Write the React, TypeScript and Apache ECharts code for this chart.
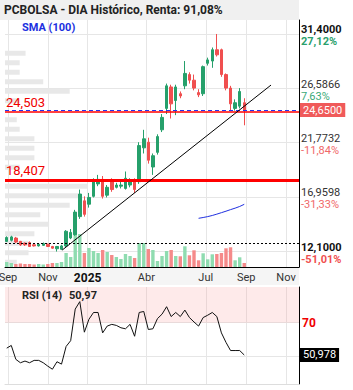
import React, { useEffect, useRef } from 'react';
import * as echarts from 'echarts';

// ---------- data ----------
const weekDates = [
  '2024-08-30', '2024-09-06', '2024-09-13', '2024-09-20', '2024-09-27', '2024-10-04', '2024-10-11', '2024-10-18',
  '2024-10-25', '2024-11-01', '2024-11-08', '2024-11-15', '2024-11-22', '2024-11-29', '2024-12-06', '2024-12-13',
  '2024-12-20', '2024-12-27', '2025-01-03', '2025-01-10', '2025-01-17', '2025-01-24', '2025-01-31', '2025-02-07',
  '2025-02-14', '2025-02-21', '2025-02-28', '2025-03-07', '2025-03-14', '2025-03-21', '2025-03-28', '2025-04-04',
  '2025-04-11', '2025-04-18', '2025-04-25', '2025-05-02', '2025-05-09', '2025-05-16', '2025-05-23', '2025-05-30',
  '2025-06-06', '2025-06-13', '2025-06-20', '2025-06-27', '2025-07-04', '2025-07-11', '2025-07-18', '2025-07-25',
  '2025-08-01', '2025-08-08', '2025-08-15', '2025-08-22', '2025-08-29',
];
const opens = [
  13.0, 13.1, 13.3, 13.0, 12.85, 12.9, 12.7, 12.6, 12.65, 12.75, 12.55, 12.35, 12.3, 12.6, 13.3, 13.6,
  15.2, 16.6, 16.3, 17.0, 18.1, 18.5, 17.1, 18.4, 17.8, 17.9, 17.7, 18.0, 18.4, 18.3, 21.3, 21.8,
  19.6, 20.9, 22.9, 24.8, 26.7, 25.5, 26.1, 26.8, 27.8, 27.3, 26.2, 26.1, 28.8, 29.0, 30.0, 30.0,
  27.8, 26.6, 24.8, 25.0, 25.3,
];
const closes = [
  13.35, 13.4, 12.95, 12.7, 12.7, 12.55, 12.6, 12.75, 12.8, 12.55, 12.4, 12.55, 12.6, 13.9, 13.8, 15.6,
  17.2, 15.4, 16.9, 18.3, 18.5, 17.0, 17.8, 17.6, 18.0, 18.0, 18.6, 18.4, 17.6, 21.5, 22.1, 20.2,
  20.6, 22.3, 24.0, 26.8, 25.2, 26.7, 25.9, 27.9, 27.3, 26.6, 26.0, 28.5, 29.1, 30.0, 29.55, 27.8,
  26.6, 25.2, 25.3, 26.3, 24.65,
];
const lows = [
  12.95, 13.0, 12.85, 12.6, 12.6, 12.5, 12.55, 12.55, 12.6, 12.5, 12.35, 12.1, 12.23, 12.5, 13.2, 13.5,
  15.0, 15.2, 16.0, 16.9, 17.9, 16.8, 16.9, 17.4, 17.7, 17.7, 17.6, 17.8, 17.3, 18.1, 20.8, 19.9,
  18.9, 20.7, 22.7, 24.3, 23.9, 24.2, 25.7, 26.5, 27.0, 26.4, 25.8, 25.9, 28.6, 28.4, 29.4, 27.6,
  26.4, 24.6, 24.6, 24.8, 23.3,
];
const highs = [
  13.45, 13.5, 13.4, 13.05, 12.9, 13.0, 12.8, 12.85, 12.9, 12.8, 12.6, 12.6, 12.7, 14.0, 14.1, 15.8,
  17.6, 17.0, 17.3, 18.6, 18.9, 18.8, 18.0, 18.6, 18.2, 18.3, 19.2, 18.6, 18.6, 21.8, 22.9, 22.2,
  20.8, 22.5, 24.3, 27.0, 26.9, 26.9, 26.3, 29.0, 28.0, 27.8, 26.5, 28.6, 29.3, 30.2, 31.4, 30.1,
  27.9, 26.8, 25.6, 26.6, 25.7,
];
const volumes = [
  50000, 40000, 30000, 35000, 30000, 30000, 25000, 30000, 25000, 30000, 40000, 40000, 50000, 140000, 100000, 340000,
  330000, 140000, 190000, 160000, 140000, 170000, 150000, 120000, 100000, 80000, 130000, 110000, 90000, 240000, 240000, 180000,
  170000, 60000, 110000, 160000, 170000, 110000, 107000, 207000, 117000, 167000, 67000, 137000, 77000, 127000, 130000, 140000,
  187000, 197000, 67000, 97000, 40000,
];
const rsiValues = [
  55.0, 56.6, 48.4, 46.4, 47.4, 46.4, 47.8, 47.8, 46.4, 44.4, 42.6, 47.0, 45.6, 56.0, 59.4, 78.0,
  82.4, 64.4, 72.0, 76.0, 76.0, 64.0, 68.0, 69.0, 68.4, 67.0, 66.4, 69.0, 62.0, 76.0, 76.6, 66.0,
  66.4, 72.4, 75.0, 79.4, 73.6, 76.0, 73.6, 77.4, 73.0, 70.4, 68.0, 73.0, 74.4, 76.0, 73.6, 64.0,
  58.4, 53.6, 53.6, 53.6, 50.978,
];
const smaDates = ['2025-06-20', '2025-06-27', '2025-07-04', '2025-07-11', '2025-07-18', '2025-07-25', '2025-08-01', '2025-08-08', '2025-08-15', '2025-08-22', '2025-08-29'];
const smaValues = [15.05, 15.12, 15.2, 15.3, 15.42, 15.55, 15.68, 15.82, 15.95, 16.1, 16.29];

const priceTicks = [31.4, 26.5866, 21.7732, 16.9598, 12.1];
const pctLabels = ['27,12%', '7,63%', '-11,84%', '-31,33%', '-51,01%'];
const monthTicks = ['2024-09-01', '2024-11-01', '2025-01-01', '2025-04-01', '2025-07-01', '2025-09-01', '2025-11-01'];
const monthLabels = ['Sep', 'Nov', '2025', 'Abr', 'Jul', 'Sep', 'Nov'];

const supportLevels = [24.503, 18.407];
const lastClose = 24.65;
const lowRefLevel = 12.85;
const trendStart = ['2024-11-23', 12.23] as const;
const trendEnd = ['2025-10-09', 26.87] as const;
const rsiLast = 50.978;
const rsiLabel = '50,97';

// volume-at-price profile (price bins from bottom to top)
const profileBins = [
  '11.15', '11.99', '12.84', '13.68', '14.52', '15.37', '16.21', '17.05', '17.90', '18.74', '19.58', '20.43', '21.27',
  '22.11', '22.96', '23.80', '24.64', '25.49', '26.33', '27.17', '28.02', '28.86', '29.70', '30.55', '31.39', '32.23',
];
const profileValues = [4, 8, 8, 10, 15, 12, 22, 25, 28, 0, 5, 10, 10, 10, 5, 4, 0, 5, 22, 13, 5, 5, 7, 0, 0, 0];

// ---------- helpers ----------
const toTime = (s: string) => {
  const [y, m, d] = s.split('-').map(Number);
  return new Date(y, m - 1, d).getTime();
};
const comma = (v: number, n: number) => v.toFixed(n).replace('.', ',');

const UP = '#26a06b';
const DOWN = '#f04f4f';
const VOL_UP = '#8fdcb0';
const VOL_DOWN = '#f58a8a';
const FONT = 'Roboto';

export default function App() {
  const ref = useRef<HTMLDivElement>(null);

  useEffect(() => {
    if (!ref.current) return;
    const chart = echarts.init(ref.current, undefined, { renderer: 'svg' });

    const xMin = new Date(2024, 7, 27, 9, 6).getTime();
    const xMax = new Date(2025, 10, 20, 21, 7).getTime();
    const monthTimes = monthTicks.map(toTime);
    const priceMin = 10.73;
    const priceMax = 32.64;

    const monthFormatter = (v: number) => {
      const i = monthTimes.findIndex((t) => Math.abs(t - v) < 3600000);
      if (i < 0) return '';
      return monthLabels[i] === '2025' ? `{b|${monthLabels[i]}}` : monthLabels[i];
    };
    const tickIndex = (v: number) => priceTicks.findIndex((t) => Math.abs(t - v) < 1e-6);
    const valueFormatter = (v: number) => {
      const i = tickIndex(v);
      if (i < 0) return '';
      const bold = i === 0 || i === priceTicks.length - 1;
      return `{${bold ? 'vb' : 'v'}|${comma(priceTicks[i], 4)}}`;
    };
    const pctFormatter = (v: number) => {
      const i = tickIndex(v);
      if (i < 0) return '';
      const bold = i === 0 || i === priceTicks.length - 1;
      const pct = pctLabels[i];
      const ps = (pct.startsWith('-') ? 'r' : 'g') + (bold ? 'b' : '');
      return `{${ps}|${pct}}`;
    };

    const candleData = weekDates.map((d, i) => [toTime(d), opens[i], closes[i], lows[i], highs[i]]);
    const volData = weekDates.map((d, i) => ({
      value: [toTime(d), volumes[i]],
      itemStyle: { color: closes[i] >= opens[i] ? VOL_UP : VOL_DOWN },
    }));
    const rsiData = weekDates.map((d, i) => [toTime(d), rsiValues[i]]);
    const smaData = smaDates.map((d, i) => [toTime(d), smaValues[i]]);

    const option: any = {
      animation: false,
      backgroundColor: '#ffffff',
      textStyle: { fontFamily: FONT },
      title: {
        text: 'PCBOLSA - DIA Histórico, Renta: 91,08%',
        left: 4,
        top: 4,
        padding: 0,
        textStyle: { fontSize: 12, fontWeight: 'bold', color: '#222', fontFamily: FONT },
      },
      graphic: [
        { type: 'rect', z: -100, silent: true, shape: { x: 0, y: 0, width: 299, height: 20 }, style: { fill: '#f0f0f0' } },
        { type: 'rect', z: -100, silent: true, shape: { x: 0, y: 268, width: 299, height: 17 }, style: { fill: '#f5f5f5' } },
        { type: 'text', z: 50, left: 22, top: 22, style: { text: 'SMA (100)', fill: '#2030e0', font: `bold 11px ${FONT}` } },
        { type: 'text', z: 50, left: 22, top: 290, style: { text: 'RSI (14)', fill: '#222', font: `bold 11px ${FONT}` } },
        { type: 'text', z: 50, left: 69, top: 290, style: { text: rsiLabel, fill: '#222', font: `bold 11px ${FONT}` } },
      ],
      grid: [
        { left: 5, top: 20, width: 294, height: 247, outerBoundsMode: 'none' },
        { left: 5, top: 20, width: 294, height: 247, outerBoundsMode: 'none' },
        { left: 5, top: 287, width: 294, height: 97, outerBoundsMode: 'none' },
      ],
      xAxis: [
        {
          type: 'value', gridIndex: 0, min: xMin, max: xMax, scale: true,
          axisLine: { show: true, onZero: false, lineStyle: { color: '#000', width: 1 } },
          axisTick: { show: false, customValues: monthTimes },
          axisLabel: {
            customValues: monthTimes, formatter: monthFormatter, color: '#333', fontSize: 11, margin: 5, fontFamily: FONT,
            showMinLabel: true, showMaxLabel: true,
            rich: { b: { fontWeight: 'bold', fontSize: 12, color: '#111', fontFamily: FONT } },
          },
          splitLine: { show: true, lineStyle: { color: '#e6e6e6', width: 1 } },
        },
        { type: 'value', gridIndex: 1, min: 0, max: 100, show: false },
        {
          type: 'value', gridIndex: 2, min: xMin, max: xMax, scale: true,
          axisLine: { show: true, onZero: false, lineStyle: { color: '#dddddd', width: 1 } },
          axisTick: { show: false, customValues: monthTimes },
          axisLabel: { show: false },
          splitLine: { show: true, lineStyle: { color: '#e6e6e6', width: 1 } },
        },
      ],
      yAxis: [
        {
          type: 'value', gridIndex: 0, position: 'right', min: priceMin, max: priceMax, scale: true,
          axisLine: { show: true, onZero: false, lineStyle: { color: '#000', width: 1 } },
          axisTick: { show: false, customValues: priceTicks },
          axisLabel: {
            customValues: priceTicks, formatter: valueFormatter, margin: 2, verticalAlign: 'middle',
            lineHeight: 11, padding: [0, 0, 8, 0],
            rich: {
              v: { fontSize: 11, color: '#333', lineHeight: 11, fontFamily: FONT },
              vb: { fontSize: 11, color: '#111', fontWeight: 'bold', lineHeight: 11, fontFamily: FONT },
            },
          },
          splitLine: { show: true, lineStyle: { color: '#e6e6e6', width: 1 } },
        },
        { type: 'value', gridIndex: 0, min: 0, max: 2470000, show: false },
        { type: 'category', gridIndex: 1, data: profileBins, show: false },
        {
          type: 'value', gridIndex: 2, position: 'right', min: 33.9, max: 91, scale: true,
          axisLine: { show: true, onZero: false, lineStyle: { color: '#000', width: 1 } },
          axisTick: { show: false, customValues: [50, 70] },
          axisLabel: { customValues: [70], color: '#f00000', fontWeight: 'bold', fontSize: 12, margin: 3, fontFamily: FONT },
          splitLine: { show: true, lineStyle: { color: '#e6e6e6', width: 1 } },
        },
        {
          type: 'value', gridIndex: 0, position: 'right', min: priceMin, max: priceMax, scale: true,
          axisLine: { show: false }, splitLine: { show: false },
          axisTick: { show: false, customValues: priceTicks },
          axisLabel: {
            customValues: priceTicks, formatter: pctFormatter, margin: 2, verticalAlign: 'middle',
            lineHeight: 11, padding: [16, 0, 0, 0],
            rich: {
              g: { fontSize: 11, color: '#3aaa78', lineHeight: 11, fontFamily: FONT },
              gb: { fontSize: 11, color: '#2a9f6c', fontWeight: 'bold', lineHeight: 11, fontFamily: FONT },
              r: { fontSize: 11, color: '#f06868', lineHeight: 11, fontFamily: FONT },
              rb: { fontSize: 11, color: '#f05050', fontWeight: 'bold', lineHeight: 11, fontFamily: FONT },
            },
          },
        },
      ],
      series: [
        {
          name: 'profile', type: 'bar', xAxisIndex: 1, yAxisIndex: 2, data: profileValues,
          barWidth: 5, itemStyle: { color: '#e8e8e8' }, silent: true, z: 1,
        },
        {
          name: 'volume', type: 'bar', xAxisIndex: 0, yAxisIndex: 1, data: volData,
          barWidth: 3.4, silent: true, z: 2,
        },
        {
          name: 'PCBOLSA', type: 'candlestick', xAxisIndex: 0, yAxisIndex: 0, data: candleData,
          encode: { x: 0, y: [1, 2, 3, 4] }, barWidth: 3, z: 3, silent: true,
          itemStyle: { color: UP, color0: DOWN, borderColor: UP, borderColor0: DOWN, borderWidth: 1 },
          markLine: {
            silent: true, symbol: ['none', 'none'], animation: false,
            data: [
              {
                yAxis: supportLevels[0], lineStyle: { color: '#ff0000', width: 1.5, type: 'solid' },
                label: { show: true, position: 'insideStartTop', formatter: comma(supportLevels[0], 3), color: '#f00000', fontSize: 13, distance: [1, 3], fontFamily: FONT },
              },
              {
                yAxis: supportLevels[1], lineStyle: { color: '#ff0000', width: 3, type: 'solid' },
                label: { show: true, position: 'insideStartTop', formatter: comma(supportLevels[1], 3), color: '#f00000', fontSize: 13, distance: [1, 3], fontFamily: FONT },
              },
              {
                yAxis: lastClose, lineStyle: { color: '#2233ee', width: 1, type: [4, 3] },
                label: {
                  show: true, position: 'end', formatter: comma(lastClose, 4), color: '#fff', backgroundColor: '#f05a5a',
                  padding: [2, 3, 1, 3], fontSize: 11, distance: 1, fontFamily: FONT,
                },
              },
              {
                yAxis: lowRefLevel, lineStyle: { color: '#000', width: 1, type: [2, 2] }, label: { show: false },
              },
              [
                { coord: [toTime(trendStart[0]), trendStart[1]], lineStyle: { color: '#000', width: 1, type: 'solid' }, label: { show: false } },
                { coord: [toTime(trendEnd[0]), trendEnd[1]] },
              ],
            ],
          },
        },
        {
          name: 'SMA (100)', type: 'line', xAxisIndex: 0, yAxisIndex: 0, data: smaData, symbol: 'none',
          lineStyle: { color: '#2030e0', width: 1 }, z: 4, silent: true,
        },
        {
          name: 'RSI (14)', type: 'line', xAxisIndex: 2, yAxisIndex: 3, data: rsiData, symbol: 'none',
          lineStyle: { color: '#111', width: 1 }, z: 4, silent: true,
          markArea: {
            silent: true,
            itemStyle: { color: 'rgba(250,160,160,0.22)' },
            data: [[{ yAxis: 70 }, { yAxis: 91 }]],
          },
          markLine: {
            silent: true, symbol: ['none', 'none'],
            data: [
              {
                yAxis: rsiLast, lineStyle: { color: 'rgba(0,0,0,0)', width: 0 },
                label: {
                  show: true, position: 'end', formatter: comma(rsiLast, 3), color: '#ffffff', backgroundColor: '#000000',
                  padding: [2, 3, 1, 3], fontSize: 11, distance: 1, fontFamily: FONT, opacity: 1,
                },
              },
            ],
          },
        },
      ],
    };

    chart.setOption(option);
    return () => chart.dispose();
  }, []);

  return <div ref={ref} style={{ position: 'absolute', left: 0, top: 0, width: 353, height: 390 }} />;
}
